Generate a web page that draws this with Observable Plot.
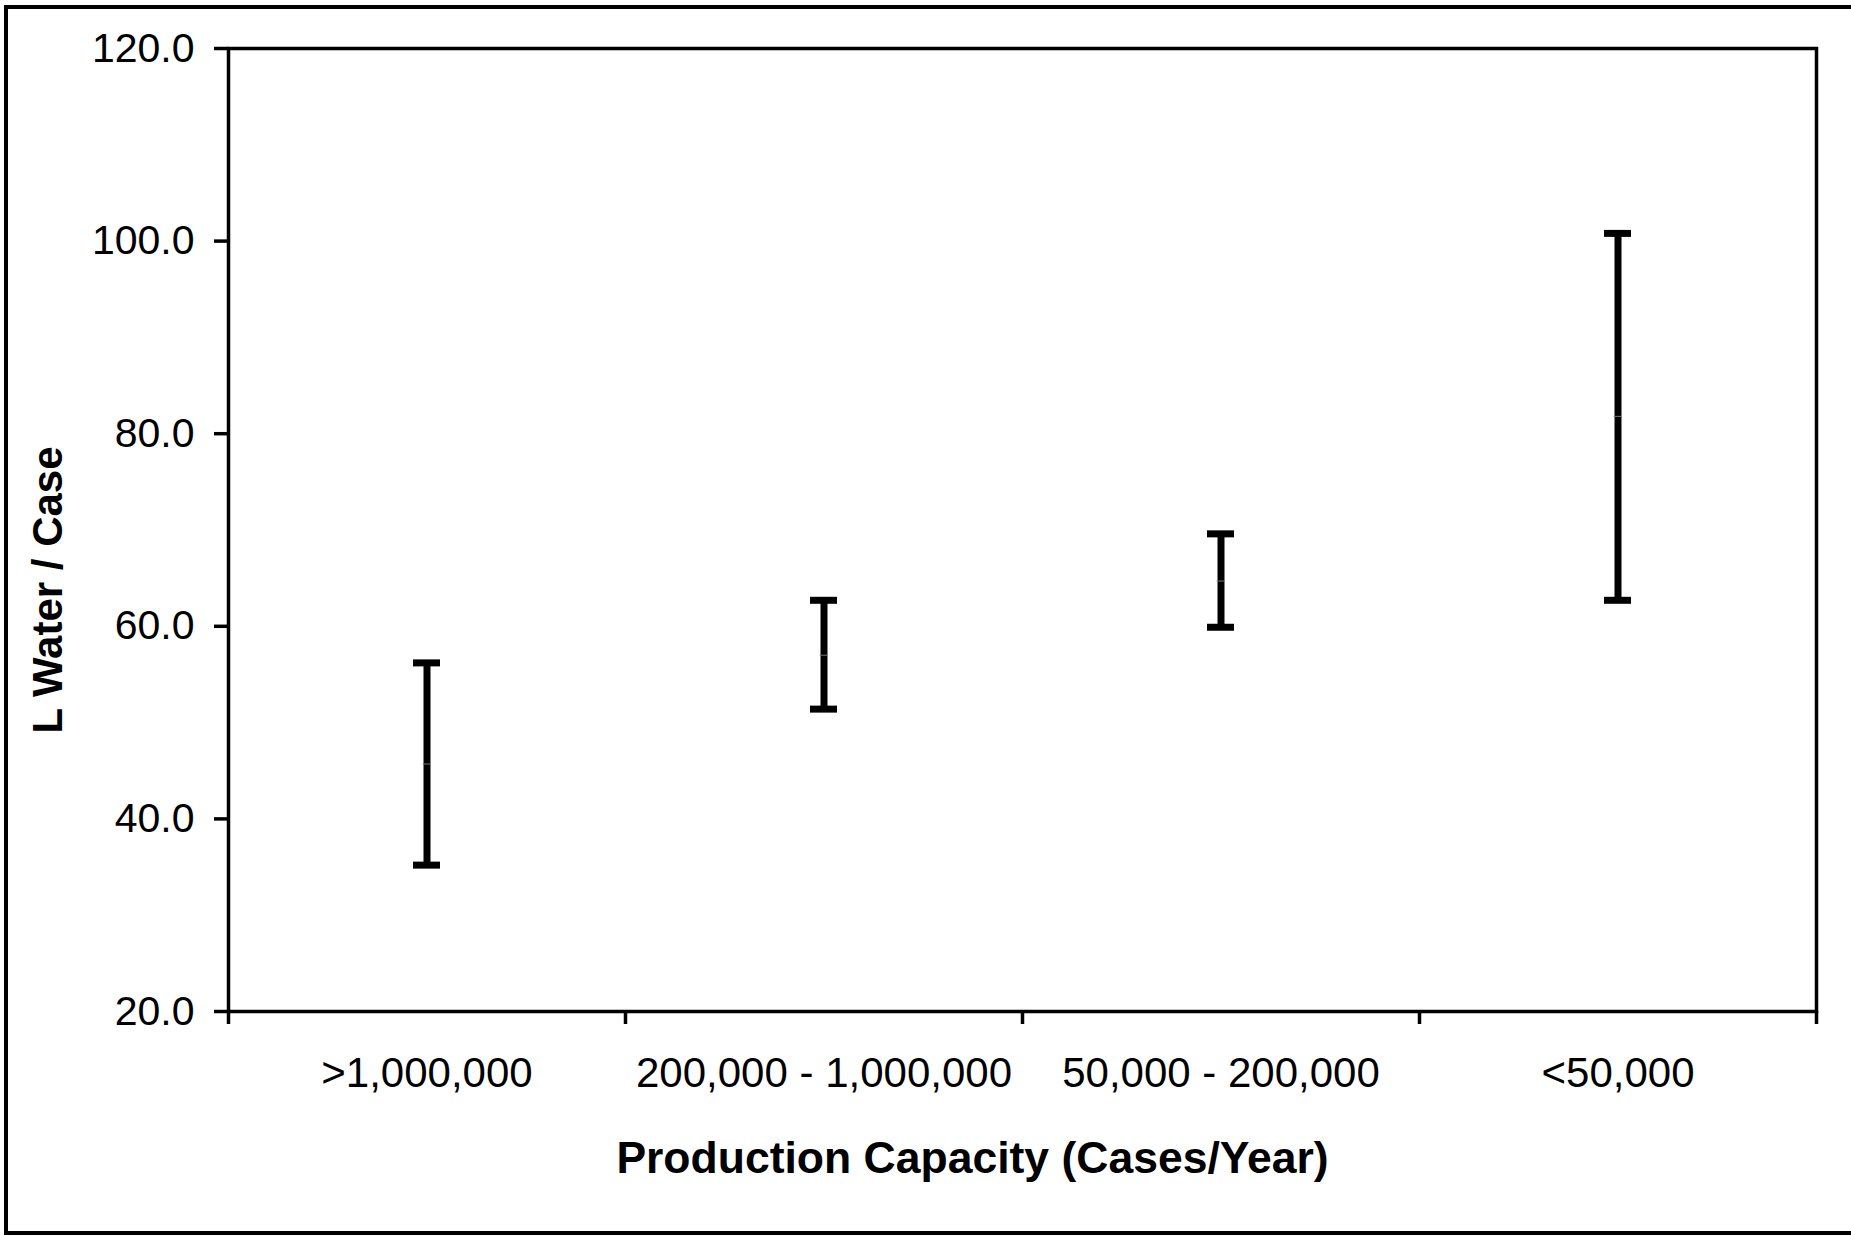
<!DOCTYPE html>
<html>
<head>
<meta charset="utf-8">
<script src="https://cdn.jsdelivr.net/npm/d3@7"></script>
<script src="https://cdn.jsdelivr.net/npm/@observablehq/plot@0.6"></script>
<style>
  html, body { margin: 0; padding: 0; background: #fff; overflow: hidden; }
  #wrap { position: relative; width: 1851px; height: 1236px; }
  #border { position: absolute; left: 4px; top: 5px; width: 1860px; height: 1222px;
            border: 4px solid #000; border-right: none; pointer-events: none; }
</style>
</head>
<body>
<div id="wrap"><div id="border"></div></div>
<script>
const categories = [">1,000,000", "200,000 - 1,000,000", "50,000 - 200,000", "<50,000"];
const highValues = [56.2, 62.7, 69.6, 100.8];
const lowValues  = [35.2, 51.4, 59.9, 62.7];
const midValues  = [45.7, 57.0, 64.7, 81.8];
const yTicks = [20, 40, 60, 80, 100, 120];
const yTitle = "L Water / Case";
const xTitle = "Production Capacity (Cases/Year)";

const rows = categories.map((c, i) => ({
  cat: c, pos: i + 0.5, high: highValues[i], low: lowValues[i], mid: midValues[i]
}));
const boundaries = d3.range(categories.length + 1);

const chart = Plot.plot({
  width: 1851,
  height: 1236,
  marginLeft: 228,
  marginRight: 35,
  marginTop: 48,
  marginBottom: 225,
  style: { fontFamily: "'Liberation Sans', Arial, sans-serif", fontSize: "40px", color: "#000", background: "transparent" },
  x: { type: "linear", domain: [0, categories.length] },
  y: { domain: [20, 120] },
  marks: [
    Plot.frame({ stroke: "#000", strokeWidth: 3.5 }),
    Plot.axisY({ ticks: yTicks, tickFormat: d => d.toFixed(1), tickSize: 14, tickPadding: 20,
                 strokeWidth: 3.5, fontSize: 41, label: null }),
    Plot.axisX({ ticks: boundaries, tickFormat: () => "", tickSize: 13, strokeWidth: 3.5, label: null }),
    Plot.axisX({ ticks: rows.map(r => r.pos), tickFormat: d => categories[Math.floor(d)], tickSize: 0,
                 tickPadding: 46, fontSize: 42, label: null }),
    Plot.ruleX(rows, { x: "pos", y1: "low", y2: "high", stroke: "#000", strokeWidth: 7 }),
    Plot.ruleY(rows, { x1: "pos", x2: "pos", y: "high", insetLeft: -13.5, insetRight: -13.5, stroke: "#000", strokeWidth: 7 }),
    Plot.ruleY(rows, { x1: "pos", x2: "pos", y: "low", insetLeft: -13.5, insetRight: -13.5, stroke: "#000", strokeWidth: 7 }),
    Plot.ruleY(rows, { x1: "pos", x2: "pos", y: "mid", insetLeft: -3.8, insetRight: -3.8, stroke: "#777", strokeWidth: 1 }),
    Plot.text([yTitle], { frameAnchor: "left", textAnchor: "middle", lineAnchor: "middle", rotate: -90, dx: -180, dy: 60,
                          fontWeight: "bold", fontSize: 42, fill: "#000" }),
    Plot.text([xTitle], { frameAnchor: "bottom", textAnchor: "middle", lineAnchor: "middle", dx: -50, dy: 147,
                          fontWeight: "bold", fontSize: 44.5, fill: "#000" })
  ]
});
document.getElementById("wrap").prepend(chart);
</script>
</body>
</html>
